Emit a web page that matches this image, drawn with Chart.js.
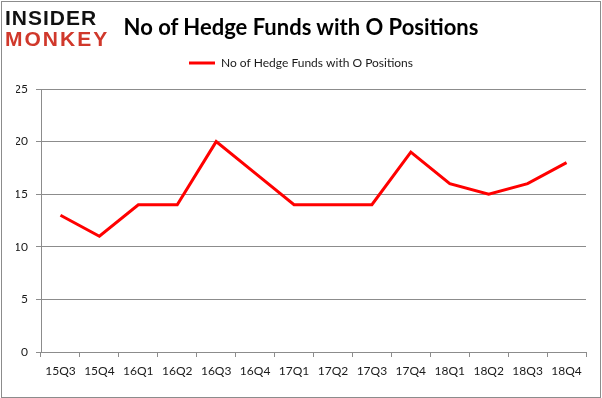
<!DOCTYPE html>
<html>
<head>
<meta charset="utf-8">
<script src="https://cdn.jsdelivr.net/npm/chart.js@4"></script>
<style>
  html, body { margin: 0; padding: 0; background: #fff; }
  #wrap { position: relative; width: 602px; height: 398px; overflow: hidden; }
  #frame { position: absolute; left: 1px; top: 1px; width: 598px; height: 395px; border: 1px solid #8c8c8c; }
  #logo { position: absolute; left: 5px; top: 7px; font-family: "Liberation Sans", Arial, sans-serif; font-weight: bold; line-height: 21px; }
  #logo .a { color: #111; font-size: 21px; letter-spacing: 1px; }
  #logo .b { color: #d0382b; font-size: 21px; letter-spacing: 2px; }
  #title { position: absolute; left: 0; top: 13px; width: 602px; text-align: center;
           font-family: Lato, "Open Sans", sans-serif; font-weight: bold; font-size: 22px; color: #000; }
  #c { position: absolute; left: 0; top: 0; }
</style>
</head>
<body>
<div id="wrap">
  <div id="frame"></div>
  <canvas id="c" width="602" height="398"></canvas>
  <div id="logo"><div class="a">INSIDER</div><div class="b">MONKEY</div></div>
  <div id="title">No of Hedge Funds with O Positions</div>
</div>
<script>
// datos
const trimestres = ['15Q3', '15Q4', '16Q1', '16Q2', '16Q3', '16Q4', '17Q1', '17Q2', '17Q3', '17Q4', '18Q1', '18Q2', '18Q3', '18Q4'];
const fondos = [13, 11, 14, 14, 20, 17, 14, 14, 14, 19, 16, 15, 16, 18];
const serieNombre = 'No of Hedge Funds with O Positions';
const ejeY = { min: 0, max: 25, paso: 5 };

const colorTexto = '#1a1a1a';
const colorGris = '#8c8c8c';
const fuente = 'Lato, "Open Sans", sans-serif';

// espacio extra debajo de la leyenda
const espacioLeyenda = {
    id: 'espacioLeyenda',
    beforeLayout(chart) {
        const lg = chart.legend;
        if (lg && !lg._envuelto) {
            const fitOriginal = lg.fit.bind(lg);
            lg.fit = function() { fitOriginal(); this.height += 10; };
            lg._envuelto = true;
        }
    }
};

new Chart(document.getElementById('c'), {
    type: 'line',
    data: {
        labels: trimestres,
        datasets: [{
            label: serieNombre,
            data: fondos,
            borderColor: '#ff0000',
            backgroundColor: '#ff0000',
            borderWidth: 3,
            pointRadius: 0,
            tension: 0,
            fill: false
        }]
    },
    options: {
        responsive: false,
        animation: false,
        layout: { padding: { left: 16, right: 16, top: 36, bottom: 0 } },
        plugins: {
            legend: {
                display: true,
                position: 'top',
                labels: {
                    usePointStyle: true,
                    pointStyle: 'line',
                    pointStyleWidth: 26,
                    color: colorTexto,
                    font: { family: fuente, size: 12 },
                    padding: 21
                }
            },
            tooltip: { enabled: false }
        },
        scales: {
            x: {
                offset: true,
                grid: { display: true, drawOnChartArea: false, offset: true, color: colorGris, tickLength: 5 },
                border: { color: colorGris },
                ticks: { color: colorTexto, font: { family: fuente, size: 12 }, padding: 7, maxRotation: 0 },
                afterFit: s => { s.height = 46; }
            },
            y: {
                min: ejeY.min,
                max: ejeY.max,
                ticks: { stepSize: ejeY.paso, color: colorTexto, font: { family: fuente, size: 12 }, padding: 8 },
                grid: { color: colorGris, tickLength: 5 },
                border: { color: colorGris },
                afterFit: s => { s.width = 25; }
            }
        }
    },
    plugins: [espacioLeyenda]
});
</script>
</body>
</html>
